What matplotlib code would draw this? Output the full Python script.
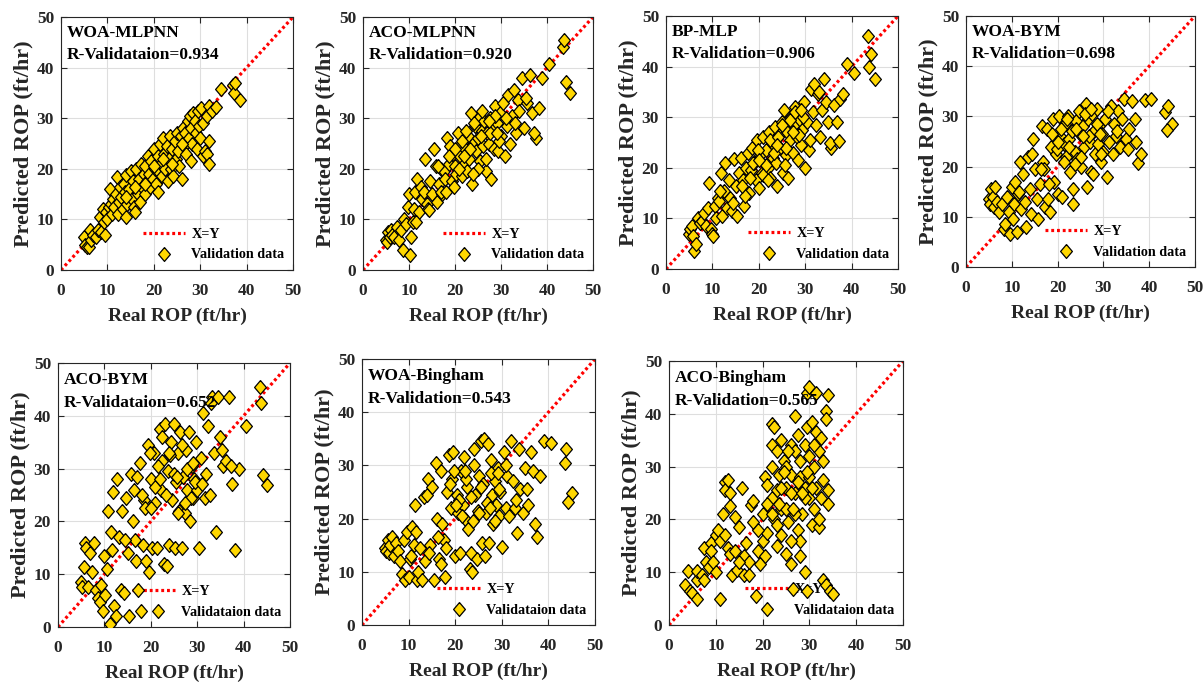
import matplotlib
matplotlib.use("Agg")
import matplotlib.pyplot as plt
from matplotlib.lines import Line2D

# ---- data ----
# WOA-MLPNN has its own validation set
woa_mlpnn_real = [5.0, 5.2, 5.5, 6.0, 6.2, 6.5, 7.0, 7.5, 8.0, 8.5,
                  8.7, 9.0, 9.2, 9.5, 9.7, 10.0, 10.3, 10.5, 10.8, 11.0,
                  11.3, 11.5, 11.8, 12.0, 12.2, 12.5, 12.8, 13.0, 13.3, 13.5,
                  13.8, 14.0, 14.0, 14.3, 14.6, 15.0, 15.2, 15.5, 15.8, 16.0,
                  16.2, 16.5, 16.8, 17.0, 17.2, 17.5, 17.8, 18.0, 18.2, 18.5,
                  18.8, 19.0, 19.2, 19.5, 19.8, 20.0, 20.2, 20.5, 20.8, 21.0,
                  21.0, 21.3, 21.5, 21.8, 22.0, 22.2, 22.5, 22.8, 23.0, 23.2,
                  23.5, 23.8, 24.0, 24.2, 24.5, 24.8, 25.0, 25.3, 25.5, 25.8,
                  26.0, 26.2, 26.5, 26.8, 27.0, 27.3, 27.5, 27.8, 28.0, 28.0,
                  28.3, 28.5, 28.8, 29.0, 29.3, 29.5, 29.8, 30.0, 30.2, 30.5,
                  30.5, 31.0, 31.5, 31.5, 32.0, 32.0, 32.0, 32.5, 33.5, 34.5,
                  37.0, 37.2, 37.5, 38.5, 26.0, 24.0, 22.0, 20.0, 18.0, 16.0, 14.0]
woa_mlpnn_pred = [6.5, 5.0, 4.5, 4.5, 8.0, 6.0, 7.0, 6.5, 8.0, 10.5,
                  7.5, 12.0, 9.5, 7.0, 11.5, 10.0, 12.5, 16.0, 13.0, 11.0,
                  14.0, 12.5, 15.0, 18.3, 11.0, 13.5, 16.5, 14.5, 12.0, 17.0,
                  15.5, 18.8, 10.5, 13.0, 16.0, 19.5, 14.0, 17.5, 12.5, 11.5,
                  20.0, 15.0, 18.0, 13.5, 21.0, 16.5, 19.0, 15.0, 20.5, 17.5,
                  22.5, 19.0, 16.5, 21.5, 18.0, 24.0, 20.0, 17.0, 22.5, 15.5,
                  19.5, 25.0, 21.0, 18.5, 26.0, 23.0, 20.0, 24.5, 17.5, 22.0,
                  26.5, 20.0, 24.0, 18.5, 25.5, 22.0, 27.0, 23.5, 20.5, 26.5,
                  18.0, 28.0, 24.5, 27.0, 23.0, 29.5, 26.0, 30.5, 21.5, 28.0,
                  25.0, 31.0, 29.5, 27.0, 24.0, 31.5, 28.5, 26.0, 32.0, 22.5,
                  29.0, 23.5, 23.0, 30.5, 32.5, 25.5, 21.0, 31.5, 32.2, 35.8,
                  36.5, 35.0, 37.0, 33.5, 25.0, 21.0, 22.0, 20.5, 17.0, 16.5, 14.5]

# real ROP shared by ACO-MLPNN, BP-MLP, WOA-BYM, ACO-BYM, WOA-Bingham
real_rop = [5.0, 5.2, 5.5, 5.8, 6.1, 6.4, 6.8, 7.3, 7.8, 8.2, 8.6, 9.0, 9.3, 9.7, 10.0, 10.2,
            10.5, 10.8, 11.1, 11.4, 11.8, 12.1, 12.5, 12.8, 13.2, 13.5, 13.9, 14.2, 14.6, 15.0, 15.4, 15.8,
            16.1, 16.5, 16.9, 17.2, 17.6, 17.9, 18.3, 18.6, 19.0, 19.3, 19.6, 20.0, 20.3, 20.6, 21.0, 21.3,
            21.6, 21.9, 22.2, 22.5, 22.8, 23.1, 23.4, 23.7, 24.0, 24.3, 24.6, 24.9, 25.2, 25.5, 25.8, 26.1,
            26.4, 26.7, 27.0, 27.3, 27.6, 27.9, 28.2, 28.5, 28.8, 29.1, 29.4, 29.7, 30.0, 30.4, 30.8, 31.2,
            31.6, 32.0, 32.4, 32.8, 33.2, 33.6, 34.0, 34.5, 35.0, 35.6, 36.2, 36.8, 37.5, 38.2, 39.0, 40.5,
            17.0, 18.8, 19.8, 20.8, 21.5, 22.4, 23.3, 24.1, 25.0, 25.9, 26.8, 27.7, 28.6, 29.5, 43.5, 45.0,
            14.4, 16.3, 18.1, 20.1, 22.0, 23.9, 25.6, 27.4, 29.2, 31.0, 33.0, 35.4, 37.2, 43.8, 44.2, 11.6]

aco_mlpnn_pred = [6.0, 5.5, 7.5, 6.5, 8.0, 7.0, 6.5, 8.5, 6.0, 8.0, 4.0, 10.0, 9.0, 12.5, 15.0, 3.0,
                  6.5, 9.5, 12.0, 15.5, 18.0, 11.5, 16.5, 14.0, 15.5, 22.0, 13.0, 12.0, 17.5, 15.0, 24.0, 20.5,
                  13.5, 17.0, 20.0, 15.0, 19.5, 18.0, 26.0, 21.0, 24.5, 17.5, 23.0, 20.5, 19.0, 27.0, 22.5, 25.0,
                  18.5, 21.0, 24.0, 19.5, 26.5, 22.0, 31.0, 17.0, 25.0, 28.5, 23.5, 26.0, 30.0, 21.5, 27.5, 24.5,
                  29.5, 19.5, 27.0, 25.0, 30.0, 18.0, 28.5, 24.0, 32.5, 29.0, 23.5, 31.0, 26.5, 33.0, 22.5, 28.5,
                  34.5, 25.0, 30.5, 35.5, 27.0, 33.5, 31.5, 38.0, 28.0, 33.0, 38.5, 31.0, 26.0, 32.0, 38.0, 40.8,
                  15.5, 22.5, 16.5, 20.0, 25.5, 27.5, 24.0, 29.0, 20.0, 31.5, 22.0, 27.0, 30.5, 25.5, 44.0, 35.0,
                  11.8, 20.5, 15.5, 24.0, 22.5, 19.0, 26.5, 29.5, 27.0, 30.0, 29.0, 34.0, 27.0, 45.5, 37.2, 9.5]

bp_mlp_pred = [7.0, 8.0, 8.5, 6.5, 3.5, 5.0, 10.0, 9.0, 9.5, 11.0, 8.5, 12.0, 17.0, 8.0, 7.0, 6.5,
               12.5, 10.0, 14.0, 13.5, 19.0, 10.5, 15.5, 21.0, 12.0, 17.5, 14.0, 11.5, 21.7, 16.5, 10.5, 19.0,
               22.0, 17.5, 12.5, 20.0, 23.0, 15.0, 19.5, 24.0, 21.0, 17.5, 25.5, 16.0, 22.5, 19.0, 26.0, 18.5,
               23.5, 20.0, 27.0, 18.0, 25.0, 22.0, 28.0, 21.0, 16.5, 26.5, 24.0, 29.0, 19.0, 31.5, 22.5, 27.0,
               18.0, 25.5, 30.0, 23.0, 28.5, 32.0, 26.0, 21.5, 29.5, 24.5, 27.5, 33.0, 20.0, 29.0, 23.5, 35.5,
               31.0, 36.5, 28.5, 34.5, 26.0, 31.5, 37.5, 33.0, 29.0, 24.0, 32.5, 29.0, 33.5, 34.5, 40.5, 38.7,
               14.5, 21.0, 23.5, 18.5, 20.5, 25.5, 23.0, 26.0, 28.5, 24.0, 29.5, 31.0, 26.5, 30.0, 46.0, 37.5,
               13.0, 16.5, 18.0, 21.5, 17.5, 24.5, 20.5, 27.0, 31.5, 25.5, 35.0, 25.0, 25.2, 40.0, 42.5, 15.5]

woa_bym_pred = [13.5, 12.5, 15.5, 14.0, 12.0, 16.0, 13.0, 11.0, 12.5, 7.5, 8.5, 14.0, 11.0, 6.5, 16.0, 9.5,
                12.5, 17.0, 7.0, 14.5, 21.0, 11.5, 18.5, 13.0, 8.0, 22.0, 15.5, 10.5, 25.5, 19.5, 13.5, 9.5,
                16.5, 28.0, 21.0, 12.0, 27.5, 13.5, 11.0, 24.0, 29.5, 17.0, 22.5, 14.5, 30.0, 26.0, 14.0, 24.5,
                28.5, 22.0, 30.0, 25.5, 19.0, 27.0, 12.5, 23.0, 29.0, 21.5, 31.0, 26.5, 20.0, 28.0, 24.0, 32.5,
                16.0, 29.5, 25.0, 19.0, 30.5, 27.0, 22.5, 31.5, 24.5, 28.0, 21.0, 26.5, 23.0, 29.5, 18.0, 25.0,
                32.0, 22.5, 28.5, 26.0, 31.0, 24.0, 29.5, 33.5, 25.5, 27.5, 33.0, 29.5, 20.8, 22.5, 33.3, 33.5,
                19.5, 26.5, 23.5, 27.5, 21.0, 24.0, 15.5, 27.5, 22.0, 30.5, 26.0, 18.5, 28.5, 22.5, 30.8, 28.5,
                22.5, 19.5, 16.5, 25.0, 29.5, 20.5, 26.0, 31.5, 26.5, 31.0, 27.0, 23.5, 25.0, 27.2, 32.0, 15.0]

aco_bym_pred = [8.5, 7.5, 11.3, 16.0, 15.0, 7.5, 14.0, 10.5, 16.0, 7.0, 5.5, 4.8, 8.0, 3.0, 13.5, 6.0,
                11.0, 22.0, 0.5, 18.0, 25.5, 4.0, 2.0, 28.0, 17.0, 7.0, 22.0, 6.5, 24.5, 14.0, 2.0, 29.0,
                20.0, 16.5, 12.5, 7.0, 31.0, 3.0, 15.5, 24.0, 12.5, 34.5, 10.5, 28.0, 15.0, 33.0, 23.5, 15.0,
                3.0, 37.5, 26.0, 31.5, 12.0, 38.5, 11.5, 29.5, 15.5, 35.0, 24.0, 38.5, 15.0, 27.5, 33.0, 22.0,
                37.0, 15.0, 28.5, 21.5, 33.5, 26.0, 37.0, 20.0, 30.5, 24.5, 28.0, 35.0, 26.0, 15.0, 32.0, 40.5,
                24.5, 29.0, 38.0, 25.0, 43.5, 33.0, 18.0, 43.5, 36.0, 30.5, 31.5, 43.5, 27.0, 14.5, 30.0, 38.0,
                28.5, 22.5, 33.0, 26.5, 30.5, 36.0, 25.0, 32.5, 29.0, 21.5, 34.5, 30.0, 24.5, 27.5, 45.5, 26.8,
                16.5, 26.0, 25.0, 22.5, 28.0, 33.0, 28.5, 23.5, 31.0, 27.0, 42.5, 33.5, 30.5, 42.5, 28.7, 14.5]

woa_bingham_pred = [14.5, 14.0, 16.0, 13.5, 15.0, 16.5, 13.0, 15.5, 14.0, 12.0, 9.5, 16.0, 8.5, 17.5, 9.0, 12.5,
                    13.0, 18.5, 15.0, 22.5, 8.5, 10.0, 14.5, 8.5, 24.0, 12.0, 24.5, 27.5, 15.0, 26.0, 8.5, 30.5,
                    20.0, 12.5, 29.0, 19.0, 16.0, 9.0, 25.0, 32.0, 22.0, 27.5, 32.5, 13.0, 24.5, 21.0, 13.5, 29.0,
                    22.5, 31.5, 20.0, 26.0, 18.0, 10.5, 13.5, 10.0, 33.0, 24.5, 12.5, 21.5, 28.0, 34.5, 15.5, 35.0,
                    13.0, 21.0, 34.0, 15.5, 31.0, 24.5, 19.0, 27.0, 22.5, 29.5, 20.5, 25.0, 14.7, 32.5, 22.0, 28.0,
                    20.5, 34.5, 27.0, 22.0, 17.3, 33.0, 25.5, 21.0, 29.5, 22.5, 32.5, 29.0, 16.5, 28.0, 34.5, 34.3,
                    11.5, 26.5, 29.0, 23.5, 20.5, 27.5, 24.0, 30.0, 21.0, 26.5, 23.0, 28.5, 19.5, 25.5, 30.5, 24.8,
                    13.5, 16.5, 14.5, 22.5, 29.0, 19.5, 26.0, 22.0, 28.5, 30.0, 23.5, 25.5, 19.0, 33.0, 23.2, 17.5]

# ACO-Bingham has its own validation set
aco_bingham_real = [4.0, 3.5, 4.5, 5.0, 6.0, 6.0, 6.0, 7.0, 7.5, 7.5,
                    8.0, 8.5, 9.0, 9.0, 9.5, 10.0, 10.0, 10.5, 11.0, 11.0,
                    11.5, 12.0, 12.0, 12.5, 12.0, 12.5, 13.0, 13.0, 13.0, 13.5,
                    14.0, 14.5, 15.0, 15.5, 16.0, 16.0, 16.5, 17.0, 17.0, 17.5,
                    18.0, 18.0, 18.5, 19.0, 19.5, 20.0, 20.0, 20.5, 21.0, 21.0,
                    22.0, 22.5, 22.0, 22.0, 22.0, 22.5, 23.0, 23.0, 23.0, 23.5,
                    24.0, 24.0, 24.0, 24.5, 25.0, 25.0, 25.5, 26.0, 26.0, 26.0,
                    26.5, 27.0, 27.0, 27.5, 27.5, 28.0, 28.0, 28.5, 29.0, 29.0,
                    29.0, 29.5, 29.5, 29.5, 30.0, 30.0, 30.0, 30.5, 30.5, 31.0,
                    31.0, 31.5, 31.5, 31.5, 32.0, 32.0, 32.0, 32.5, 33.0, 33.0,
                    33.5, 33.5, 33.5, 34.0, 34.0, 34.0, 34.5, 35.0, 25.0, 26.0,
                    27.0, 28.0, 24.0, 23.0, 25.0, 27.0, 29.0, 30.0, 22.0, 26.0,
                    28.0, 21.0, 23.5, 24.5, 25.5, 26.5, 27.5, 28.5, 29.5, 30.5,
                    31.0, 32.5, 33.0, 15.0, 14.0, 19.0, 20.5]
aco_bingham_pred = [10.2, 7.5, 6.5, 6.0, 5.0, 8.5, 10.3, 9.5, 14.5, 8.5,
                    12.0, 11.0, 15.5, 14.0, 12.0, 17.0, 10.0, 18.0, 16.0, 5.0,
                    21.0, 27.0, 25.5, 27.5, 17.0, 14.5, 13.5, 25.0, 22.5, 9.5,
                    20.5, 10.5, 18.5, 26.0, 9.5, 13.0, 15.5, 9.5, 12.0, 22.8,
                    23.5, 19.5, 5.5, 14.0, 11.5, 16.0, 21.0, 28.0, 17.5, 26.5,
                    38.0, 37.5, 34.0, 30.0, 24.0, 20.0, 15.0, 33.0, 25.5, 28.5,
                    35.0, 22.0, 17.0, 31.0, 13.5, 26.0, 19.5, 11.5, 34.0, 28.5,
                    6.8, 39.5, 25.0, 36.0, 18.0, 31.0, 16.0, 21.0, 10.0, 34.0,
                    26.0, 44.0, 37.5, 6.5, 45.0, 24.0, 32.0, 19.0, 38.5, 22.0,
                    30.0, 44.0, 36.5, 26.0, 33.0, 18.5, 20.0, 35.5, 8.5, 27.5,
                    40.5, 39.0, 7.5, 43.5, 25.5, 23.0, 6.5, 5.8, 22.0, 25.0,
                    21.0, 28.0, 26.0, 19.0, 30.0, 33.0, 24.0, 28.0, 21.0, 16.0,
                    13.0, 23.0, 23.0, 29.0, 33.0, 22.0, 27.0, 25.0, 29.0, 26.0,
                    34.0, 24.0, 31.0, 12.0, 14.0, 18.0, 13.0]

titles = ['WOA-MLPNN', 'ACO-MLPNN', 'BP-MLP', 'WOA-BYM', 'ACO-BYM', 'WOA-Bingham', 'ACO-Bingham']
r_labels = ['R-Validataion=0.934', 'R-Validation=0.920', 'R-Validation=0.906', 'R-Validation=0.698',
            'R-Validataion=0.652', 'R-Validation=0.543', 'R-Validation=0.565']
leg_labels = ['Validation data'] * 4 + ['Validataion data'] * 3

plt.rcParams['font.family'] = ['Liberation Serif', 'DejaVu Serif']
plt.rcParams['font.weight'] = 'bold'
plt.rcParams['axes.labelweight'] = 'bold'

W, H = 1204, 686
fig = plt.figure(figsize=(W / 100, H / 100), dpi=100)

# axes boxes in pixels: left, top, right, bottom
boxes = [(61, 17, 293, 270), (363, 17, 593, 270), (666, 16, 898, 269), (966, 16, 1195, 267),
         (58, 363, 290, 627), (362, 359, 595, 625), (669, 361, 903, 625)]
xs = [woa_mlpnn_real, real_rop, real_rop, real_rop, real_rop, real_rop, aco_bingham_real]
ys = [woa_mlpnn_pred, aco_mlpnn_pred, bp_mlp_pred, woa_bym_pred, aco_bym_pred, woa_bingham_pred,
      aco_bingham_pred]

dark = '#262626'
gold = '#FFD700'
# MATLAB-style diamond: a bit taller than wide
diamond = [(0, 1), (0.85, 0), (0, -1), (-0.85, 0), (0, 1)]
dotted = (0, (0.9, 0.9))

for i in range(7):
    l, t, r, b = boxes[i]
    ax = fig.add_axes([l / W, 1 - b / H, (r - l) / W, (b - t) / H])
    ax.plot([0, 50], [0, 50], color='red', ls=dotted, lw=2.3, zorder=2)
    ax.scatter(xs[i], ys[i], marker=diamond, s=100, facecolor=gold, edgecolor='black',
               linewidth=0.9, zorder=3)
    ax.set_xlim(0, 50)
    ax.set_ylim(0, 50)
    ax.set_xticks(range(0, 51, 10))
    ax.set_yticks(range(0, 51, 10))
    ax.grid(True, color='#dedede', lw=0.8)
    ax.set_axisbelow(True)
    ax.tick_params(direction='in', top=True, right=True, length=4, width=0.8,
                   labelsize=12.5, colors=dark)
    ax.tick_params(axis='x', pad=9.5)
    ax.tick_params(axis='y', pad=5)
    for sp in ax.spines.values():
        sp.set_color(dark)
        sp.set_linewidth(0.8)
    ax.set_xlabel('Real ROP (ft/hr)', fontsize=14, color=dark, labelpad=6)
    ax.set_ylabel('Predicted ROP (ft/hr)', fontsize=16, color=dark, labelpad=2)

    ax.text(0.025, 0.935, titles[i], transform=ax.transAxes, fontsize=12.5,
            va='center', ha='left', color='black')
    ax.text(0.025, 0.85, r_labels[i], transform=ax.transAxes, fontsize=12.5,
            va='center', ha='left', color='black')

    line_h = Line2D([], [], color='red', ls=dotted, lw=2.3)
    if i == 4:
        mark_h = Line2D([], [], ls='none', marker=diamond, markersize=0)
    else:
        mark_h = Line2D([], [], ls='none', marker=diamond, markersize=10,
                        markerfacecolor=gold, markeredgecolor='black', markeredgewidth=0.9)
    leg = ax.legend([line_h, mark_h], ['X=Y', leg_labels[i]], loc='lower right',
                    frameon=False, fontsize=10.2, handlelength=3.0, handletextpad=0.45,
                    borderaxespad=0.2, labelspacing=0.5)
    leg.set_zorder(1)

fig.savefig('out.png', dpi=100)
